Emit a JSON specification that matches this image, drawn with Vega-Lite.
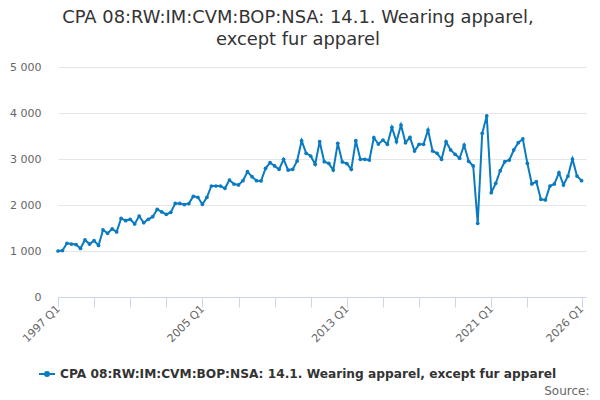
{
  "$schema": "https://vega.github.io/schema/vega-lite/v6.json",
  "width": 528,
  "height": 230,
  "autosize": {"type": "none"},
  "padding": {"left": 58, "top": 67, "right": 14, "bottom": 103},
  "config": {"view": {"stroke": null}, "font": "DejaVu Sans"},
  "title": {
    "text": ["CPA 08:RW:IM:CVM:BOP:NSA: 14.1. Wearing apparel,", "except fur apparel"],
    "fontSize": 17.9,
    "fontWeight": "normal",
    "color": "#333333",
    "lineHeight": 22,
    "offset": 12,
    "anchor": "middle",
    "frame": "group",
    "dx": -24
  },
  "data": {
    "values": [
      {"date": "1997-01-01", "value": 1000}, {"date": "1997-04-01", "value": 1010}, {"date": "1997-07-01", "value": 1167}, {"date": "1997-10-01", "value": 1150},
      {"date": "1998-01-01", "value": 1140}, {"date": "1998-04-01", "value": 1055}, {"date": "1998-07-01", "value": 1240}, {"date": "1998-10-01", "value": 1150},
      {"date": "1999-01-01", "value": 1225}, {"date": "1999-04-01", "value": 1120}, {"date": "1999-07-01", "value": 1457}, {"date": "1999-10-01", "value": 1385},
      {"date": "2000-01-01", "value": 1480}, {"date": "2000-04-01", "value": 1415}, {"date": "2000-07-01", "value": 1710}, {"date": "2000-10-01", "value": 1660},
      {"date": "2001-01-01", "value": 1690}, {"date": "2001-04-01", "value": 1587}, {"date": "2001-07-01", "value": 1760}, {"date": "2001-10-01", "value": 1615},
      {"date": "2002-01-01", "value": 1690}, {"date": "2002-04-01", "value": 1745}, {"date": "2002-07-01", "value": 1905}, {"date": "2002-10-01", "value": 1850},
      {"date": "2003-01-01", "value": 1797}, {"date": "2003-04-01", "value": 1840}, {"date": "2003-07-01", "value": 2035}, {"date": "2003-10-01", "value": 2035},
      {"date": "2004-01-01", "value": 2010}, {"date": "2004-04-01", "value": 2030}, {"date": "2004-07-01", "value": 2190}, {"date": "2004-10-01", "value": 2167},
      {"date": "2005-01-01", "value": 2015}, {"date": "2005-04-01", "value": 2167}, {"date": "2005-07-01", "value": 2413}, {"date": "2005-10-01", "value": 2413},
      {"date": "2006-01-01", "value": 2413}, {"date": "2006-04-01", "value": 2362}, {"date": "2006-07-01", "value": 2543}, {"date": "2006-10-01", "value": 2456},
      {"date": "2007-01-01", "value": 2435}, {"date": "2007-04-01", "value": 2528}, {"date": "2007-07-01", "value": 2724}, {"date": "2007-10-01", "value": 2615},
      {"date": "2008-01-01", "value": 2528}, {"date": "2008-04-01", "value": 2522}, {"date": "2008-07-01", "value": 2797}, {"date": "2008-10-01", "value": 2920},
      {"date": "2009-01-01", "value": 2848}, {"date": "2009-04-01", "value": 2775}, {"date": "2009-07-01", "value": 2993}, {"date": "2009-10-01", "value": 2760},
      {"date": "2010-01-01", "value": 2775}, {"date": "2010-04-01", "value": 2957}, {"date": "2010-07-01", "value": 3398}, {"date": "2010-10-01", "value": 3123},
      {"date": "2011-01-01", "value": 3065}, {"date": "2011-04-01", "value": 2885}, {"date": "2011-07-01", "value": 3377}, {"date": "2011-10-01", "value": 2941},
      {"date": "2012-01-01", "value": 2906}, {"date": "2012-04-01", "value": 2760}, {"date": "2012-07-01", "value": 3341}, {"date": "2012-10-01", "value": 2935},
      {"date": "2013-01-01", "value": 2900}, {"date": "2013-04-01", "value": 2775}, {"date": "2013-07-01", "value": 3398}, {"date": "2013-10-01", "value": 2993},
      {"date": "2014-01-01", "value": 2993}, {"date": "2014-04-01", "value": 2978}, {"date": "2014-07-01", "value": 3463}, {"date": "2014-10-01", "value": 3326},
      {"date": "2015-01-01", "value": 3413}, {"date": "2015-04-01", "value": 3319}, {"date": "2015-07-01", "value": 3689}, {"date": "2015-10-01", "value": 3377},
      {"date": "2016-01-01", "value": 3739}, {"date": "2016-04-01", "value": 3355}, {"date": "2016-07-01", "value": 3471}, {"date": "2016-10-01", "value": 3174},
      {"date": "2017-01-01", "value": 3319}, {"date": "2017-04-01", "value": 3319}, {"date": "2017-07-01", "value": 3630}, {"date": "2017-10-01", "value": 3174},
      {"date": "2018-01-01", "value": 3123}, {"date": "2018-04-01", "value": 2993}, {"date": "2018-07-01", "value": 3377}, {"date": "2018-10-01", "value": 3196},
      {"date": "2019-01-01", "value": 3101}, {"date": "2019-04-01", "value": 3015}, {"date": "2019-07-01", "value": 3304}, {"date": "2019-10-01", "value": 2950},
      {"date": "2020-01-01", "value": 2848}, {"date": "2020-04-01", "value": 1601}, {"date": "2020-07-01", "value": 3558}, {"date": "2020-10-01", "value": 3935},
      {"date": "2021-01-01", "value": 2268}, {"date": "2021-04-01", "value": 2471}, {"date": "2021-07-01", "value": 2746}, {"date": "2021-10-01", "value": 2942},
      {"date": "2022-01-01", "value": 2978}, {"date": "2022-04-01", "value": 3196}, {"date": "2022-07-01", "value": 3355}, {"date": "2022-10-01", "value": 3435},
      {"date": "2023-01-01", "value": 2906}, {"date": "2023-04-01", "value": 2457}, {"date": "2023-07-01", "value": 2507}, {"date": "2023-10-01", "value": 2123},
      {"date": "2024-01-01", "value": 2109}, {"date": "2024-04-01", "value": 2413}, {"date": "2024-07-01", "value": 2457}, {"date": "2024-10-01", "value": 2703},
      {"date": "2025-01-01", "value": 2435}, {"date": "2025-04-01", "value": 2630}, {"date": "2025-07-01", "value": 3000}, {"date": "2025-10-01", "value": 2630},
      {"date": "2026-01-01", "value": 2529}
    ]
  },
  "mark": {"type": "line", "strokeWidth": 2, "point": {"filled": true, "size": 14}},
  "encoding": {
    "x": {
      "field": "date",
      "type": "temporal",
      "scale": {"type": "utc", "domain": [{"year": 1997, "month": 1, "date": 1, "utc": true}, {"year": 2026, "month": 4, "date": 1, "utc": true}]},
      "axis": {
        "values": [
          {"year": 1997, "month": 1, "date": 1, "utc": true}, {"year": 1999, "month": 1, "date": 1, "utc": true},
          {"year": 2001, "month": 1, "date": 1, "utc": true}, {"year": 2003, "month": 1, "date": 1, "utc": true},
          {"year": 2005, "month": 1, "date": 1, "utc": true}, {"year": 2007, "month": 1, "date": 1, "utc": true},
          {"year": 2009, "month": 1, "date": 1, "utc": true}, {"year": 2011, "month": 1, "date": 1, "utc": true},
          {"year": 2013, "month": 1, "date": 1, "utc": true}, {"year": 2015, "month": 1, "date": 1, "utc": true},
          {"year": 2017, "month": 1, "date": 1, "utc": true}, {"year": 2019, "month": 1, "date": 1, "utc": true},
          {"year": 2021, "month": 1, "date": 1, "utc": true}, {"year": 2023, "month": 1, "date": 1, "utc": true},
          {"year": 2026, "month": 1, "date": 1, "utc": true}
        ],
        "labelExpr": "indexof([1997, 2005, 2013, 2021, 2026], utcyear(datum.value)) >= 0 ? utcyear(datum.value) + ' Q1' : ''",
        "labelAngle": -45,
        "labelAlign": "right",
        "labelBaseline": "middle",
        "labelPadding": 0,
        "labelFontSize": 11,
        "labelColor": "#666666",
        "labelFlush": false,
        "labelOverlap": false,
        "grid": false,
        "domainColor": "#ccd6eb",
        "tickColor": "#ccd6eb",
        "tickSize": 10,
        "title": "Source:",
        "titleX": 531,
        "titleY": 97,
        "titleAlign": "right",
        "titleAnchor": null,
        "titleBaseline": "alphabetic",
        "titleFontWeight": "normal",
        "titleFontSize": 12,
        "titleColor": "#666666"
      }
    },
    "y": {
      "field": "value",
      "type": "quantitative",
      "scale": {"domain": [0, 5000]},
      "axis": {
        "values": [0, 1000, 2000, 3000, 4000, 5000],
        "labelExpr": "replace(format(datum.value, ','), ',', ' ')",
        "title": null,
        "domain": false,
        "ticks": false,
        "labelPadding": 17,
        "labelFontSize": 11,
        "labelColor": "#666666",
        "gridColor": "#e6e6e6"
      }
    },
    "color": {
      "datum": "CPA 08:RW:IM:CVM:BOP:NSA: 14.1. Wearing apparel, except fur apparel",
      "type": "nominal",
      "scale": {"range": ["#0a7bc1"]},
      "legend": {
        "orient": "none",
        "legendX": -20,
        "legendY": 298,
        "title": null,
        "labelFontSize": 12.2,
        "labelFontWeight": "bold",
        "labelColor": "#333333",
        "labelLimit": 0,
        "symbolType": "M-1,0L1,0M-0.25,0A0.25,0.25,0,1,0,0.25,0A0.25,0.25,0,1,0,-0.25,0",
        "symbolSize": 256,
        "symbolStrokeWidth": 2,
        "symbolFillColor": "#0a7bc1",
        "symbolStrokeColor": "#0a7bc1"
      }
    }
  }
}
